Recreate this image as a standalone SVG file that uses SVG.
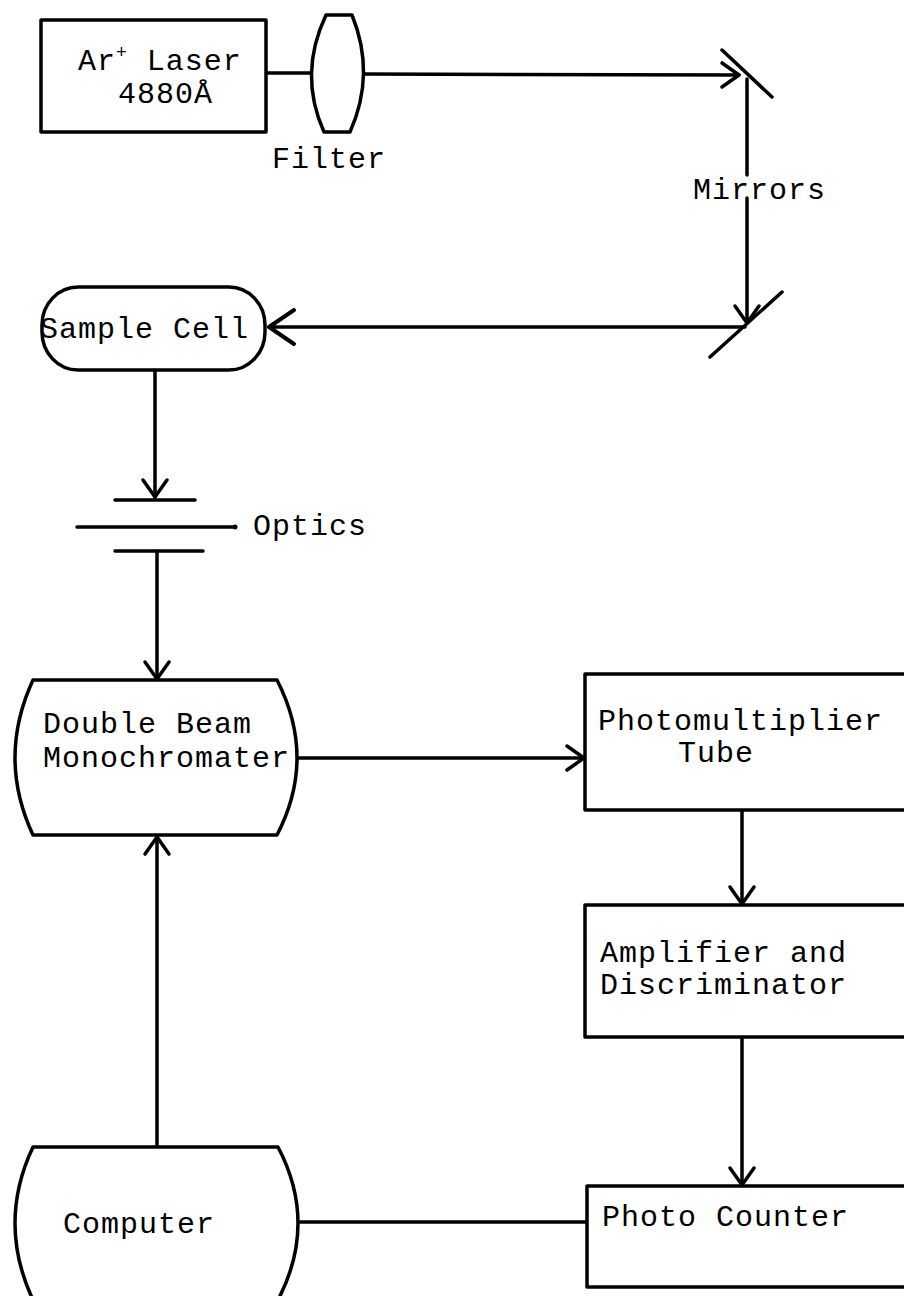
<svg xmlns="http://www.w3.org/2000/svg" width="904" height="1296" viewBox="0 0 904 1296">
<defs>
<style>
.s{fill:none;stroke:#000;stroke-width:3.5;stroke-linejoin:round;stroke-linecap:round}
.n{fill:#fff;stroke:#000;stroke-width:3.5;stroke-linejoin:round}
.t{font-family:"Liberation Mono","Courier New",monospace;font-size:30px;letter-spacing:1px;fill:#000}
</style>
<marker id="ah" markerUnits="userSpaceOnUse" markerWidth="40" markerHeight="40" viewBox="-20 -20 40 40" refX="0" refY="0" orient="auto">
<path d="M-17,-12 L0,0 L-17,12" fill="none" stroke="#000" stroke-width="3.5" stroke-linecap="round" stroke-linejoin="round"/>
</marker>
<marker id="ahb" markerUnits="userSpaceOnUse" markerWidth="60" markerHeight="60" viewBox="-30 -30 60 60" refX="0" refY="0" orient="auto">
<path d="M-25,-17 L0,0 L-25,17" fill="none" stroke="#000" stroke-width="4" stroke-linecap="round" stroke-linejoin="round"/>
</marker>
</defs>
<rect width="904" height="1296" fill="#fff"/>

<g id="connectors">
<line class="s" x1="266" y1="73" x2="312" y2="73"/>
<line class="s" x1="363" y1="74" x2="739" y2="75" marker-end="url(#ah)"/>
<line class="s" x1="747" y1="79" x2="747" y2="175"/>
<line class="s" x1="747" y1="198" x2="747" y2="323" marker-end="url(#ah)"/>
<line class="s" x1="745" y1="327" x2="269" y2="327" marker-end="url(#ahb)"/>
<line class="s" x1="155" y1="370" x2="155" y2="497" marker-end="url(#ah)"/>
<line class="s" x1="157" y1="551" x2="157" y2="679" marker-end="url(#ah)"/>
<line class="s" x1="297" y1="758" x2="584" y2="758" marker-end="url(#ah)"/>
<line class="s" x1="742" y1="810" x2="742" y2="904" marker-end="url(#ah)"/>
<line class="s" x1="742" y1="1037" x2="742" y2="1185" marker-end="url(#ah)"/>
<line class="s" x1="297" y1="1222" x2="587" y2="1222"/>
<line class="s" x1="157" y1="1147" x2="157" y2="837" marker-end="url(#ah)"/>
</g>

<g id="laser">
<rect class="n" x="41" y="20" width="225" height="112"/>
<text class="t" x="78" y="70">Ar<tspan font-size="18" dy="-12">+</tspan><tspan dy="12"> Laser</tspan></text>
<text class="t" x="118" y="103">4880Å</text>
</g>

<g id="filter">
<path class="n" d="M326,15 L352,15 Q376,74 350,132 L324,132 Q298,74 326,15 Z"/>
<text class="t" x="272" y="168">Filter</text>
</g>

<g id="mirrors">
<line class="s" x1="722" y1="50" x2="772" y2="97"/>
<line class="s" x1="710" y1="357" x2="782" y2="292"/>
<text class="t" x="693" y="199">Mirrors</text>
</g>

<g id="sample-cell">
<rect class="n" x="42" y="287" width="223" height="83" rx="36" ry="38"/>
<text class="t" x="40" y="338">Sample Cell</text>
</g>

<g id="optics">
<line class="s" x1="115" y1="500" x2="195" y2="500"/>
<line class="s" x1="77" y1="527" x2="233" y2="527"/>
<circle cx="235" cy="527" r="2.5" fill="#000"/>
<line class="s" x1="115" y1="551" x2="203" y2="551"/>
<text class="t" x="253" y="535">Optics</text>
</g>

<g id="monochromater">
<path class="n" d="M33,680 L277,680 Q317,758 277,835 L33,835 Q-3,758 33,680 Z"/>
<text class="t" x="43" y="733">Double Beam</text>
<text class="t" x="43" y="767">Monochromater</text>
</g>

<g id="photomultiplier">
<rect class="n" x="585" y="674" width="330" height="136"/>
<text class="t" x="598" y="730">Photomultiplier</text>
<text class="t" x="678" y="762">Tube</text>
</g>

<g id="amplifier">
<rect class="n" x="585" y="905" width="330" height="132"/>
<text class="t" x="600" y="962">Amplifier and</text>
<text class="t" x="600" y="994">Discriminator</text>
</g>

<g id="photo-counter">
<rect class="n" x="587" y="1186" width="330" height="101"/>
<text class="t" x="602" y="1226">Photo Counter</text>
</g>

<g id="computer">
<path class="n" d="M33,1147 L278,1147 Q318,1223 278,1300 L33,1300 Q-3,1223 33,1147 Z"/>
<text class="t" x="63" y="1233">Computer</text>
</g>
</svg>
